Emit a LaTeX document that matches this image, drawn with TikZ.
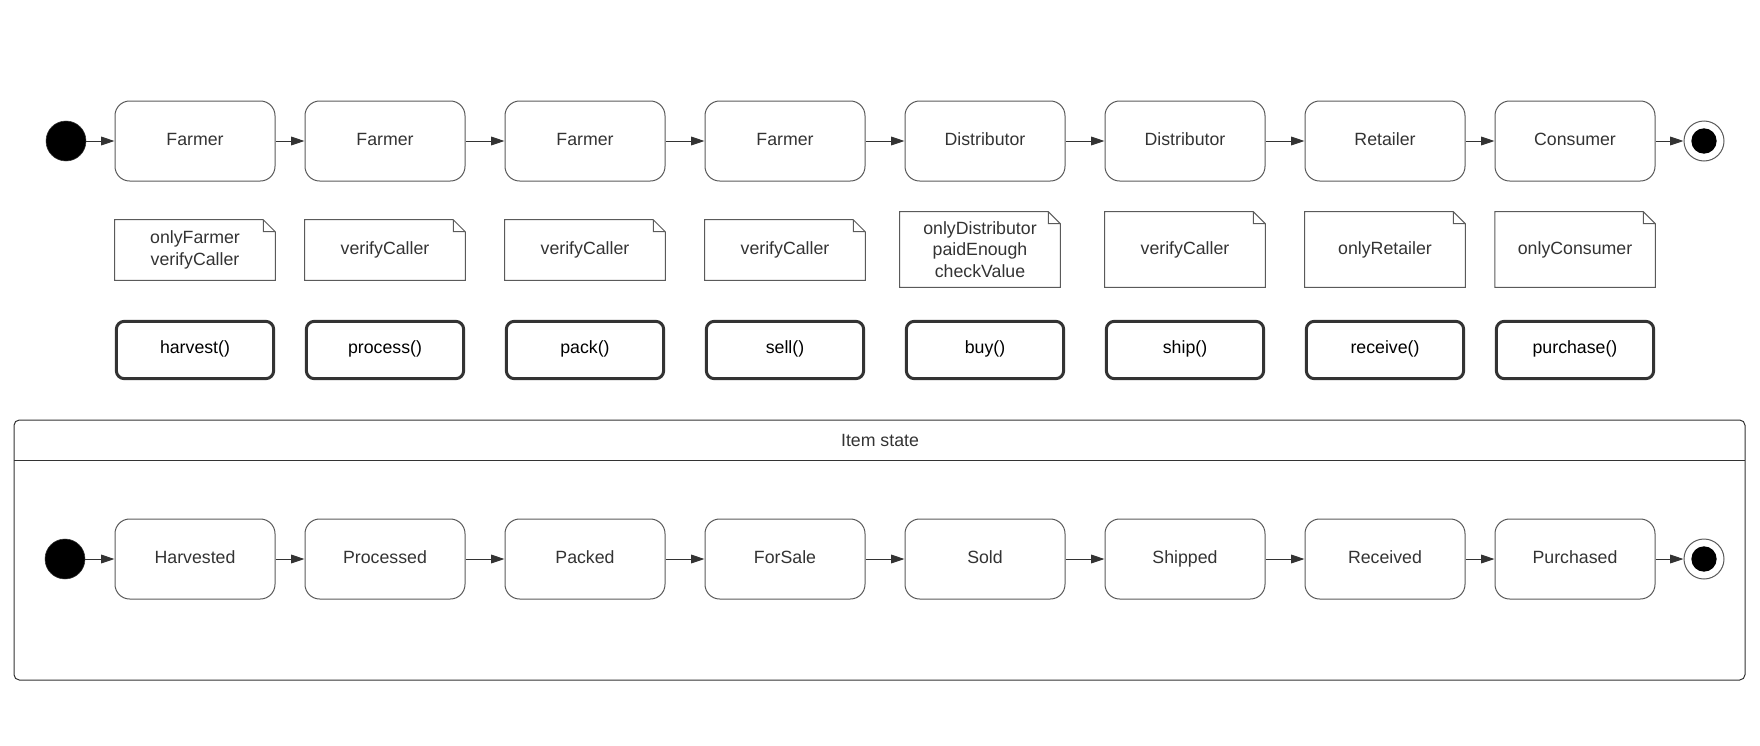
\documentclass[tikz,border=0pt]{standalone}
\usepackage{fontspec}
\setmainfont{Liberation Sans}
\usetikzlibrary{arrows.meta}

\definecolor{ink}{HTML}{333333}
\definecolor{rim}{HTML}{5A5A5A}
\tikzset{
  state/.style={draw=rim, line width=0.75pt, rounded corners=11pt, minimum width=120pt, minimum height=60pt, text=ink, text height=9pt, text depth=3pt},
  guard/.style={minimum width=120pt, align=center, text=ink},
  call/.style={draw=ink, line width=2.25pt, rounded corners=6pt, minimum width=118pt, minimum height=43pt, text=black, text height=9pt, text depth=4pt},
  flow/.style={draw=ink, line width=0.75pt, -{Triangle[length=10pt,width=6.5pt]}},
  dot/.style={circle, fill=black, inner sep=0pt},
}

\begin{document}
\begin{tikzpicture}[x=0.75pt, y=-0.75pt, font=\fontsize{13.3}{16}\selectfont]
\useasboundingbox (0,0) rectangle (1760,746);

\node[dot, draw=ink, minimum size=30pt] (s0) at (66,141) {};
\node[state] (a1) at (195,141) {Farmer};
\node[state] (a2) at (385,141) {Farmer};
\node[state] (a3) at (585,141) {Farmer};
\node[state] (a4) at (785,141) {Farmer};
\node[state] (a5) at (985,141) {Distributor};
\node[state] (a6) at (1185,141) {Distributor};
\node[state] (a7) at (1385,141) {Retailer};
\node[state] (a8) at (1575,141) {Consumer};
\node[circle, draw=rim, line width=0.75pt, minimum size=30pt, inner sep=0pt] (s9) at (1704,141) {};
\node[dot, minimum size=19pt] (s9dot) at (s9) {};

\draw[flow] (s0) -- (a1);
\draw[flow] (a1) -- (a2);
\draw[flow] (a2) -- (a3);
\draw[flow] (a3) -- (a4);
\draw[flow] (a4) -- (a5);
\draw[flow] (a5) -- (a6);
\draw[flow] (a6) -- (a7);
\draw[flow] (a7) -- (a8);
\draw[flow] (a8) -- (s9);

\node[guard, minimum height=45pt] (g1) at (195,250) {onlyFarmer\\verifyCaller};
\node[guard, minimum height=45pt] (g2) at (385,250) {verifyCaller};
\node[guard, minimum height=45pt] (g3) at (585,250) {verifyCaller};
\node[guard, minimum height=45pt] (g4) at (785,250) {verifyCaller};
\node[guard, minimum height=56.25pt] (g5) at (980,249.5) {onlyDistributor\\paidEnough\\checkValue};
\node[guard, minimum height=56.25pt] (g6) at (1185,249.5) {verifyCaller};
\node[guard, minimum height=56.25pt] (g7) at (1385,249.5) {onlyRetailer};
\node[guard, minimum height=56.25pt] (g8) at (1575,249.5) {onlyConsumer};
\foreach \i in {1,...,8}
  \draw[rim, line width=0.75pt] (g\i.south west) -- (g\i.north west) -- ([xshift=-9pt]g\i.north east)
    -- ([yshift=-9pt]g\i.north east) -- (g\i.south east) -- cycle
    ([xshift=-9pt]g\i.north east) |- ([yshift=-9pt]g\i.north east);

\node[call] (f1) at (195,350) {harvest()};
\node[call] (f2) at (385,350) {process()};
\node[call] (f3) at (585,350) {pack()};
\node[call] (f4) at (785,350) {sell()};
\node[call] (f5) at (985,350) {buy()};
\node[call] (f6) at (1185,350) {ship()};
\node[call] (f7) at (1385,350) {receive()};
\node[call] (f8) at (1575,350) {purchase()};

\draw[ink, line width=0.75pt, rounded corners=4pt] (14,420) rectangle (1745,680);
\draw[ink, line width=0.75pt] (14,460) -- (1745,460);
\node[text=ink] (title) at (880,440) {Item state};

\node[dot, draw=ink, minimum size=30pt] (t0) at (65,559) {};
\node[state] (b1) at (195,559) {Harvested};
\node[state] (b2) at (385,559) {Processed};
\node[state] (b3) at (585,559) {Packed};
\node[state] (b4) at (785,559) {ForSale};
\node[state] (b5) at (985,559) {Sold};
\node[state] (b6) at (1185,559) {Shipped};
\node[state] (b7) at (1385,559) {Received};
\node[state] (b8) at (1575,559) {Purchased};
\node[circle, draw=rim, line width=0.75pt, minimum size=30pt, inner sep=0pt] (t9) at (1704,559) {};
\node[dot, minimum size=19pt] (t9dot) at (t9) {};

\draw[flow] (t0) -- (b1);
\draw[flow] (b1) -- (b2);
\draw[flow] (b2) -- (b3);
\draw[flow] (b3) -- (b4);
\draw[flow] (b4) -- (b5);
\draw[flow] (b5) -- (b6);
\draw[flow] (b6) -- (b7);
\draw[flow] (b7) -- (b8);
\draw[flow] (b8) -- (t9);
\end{tikzpicture}
\end{document}
